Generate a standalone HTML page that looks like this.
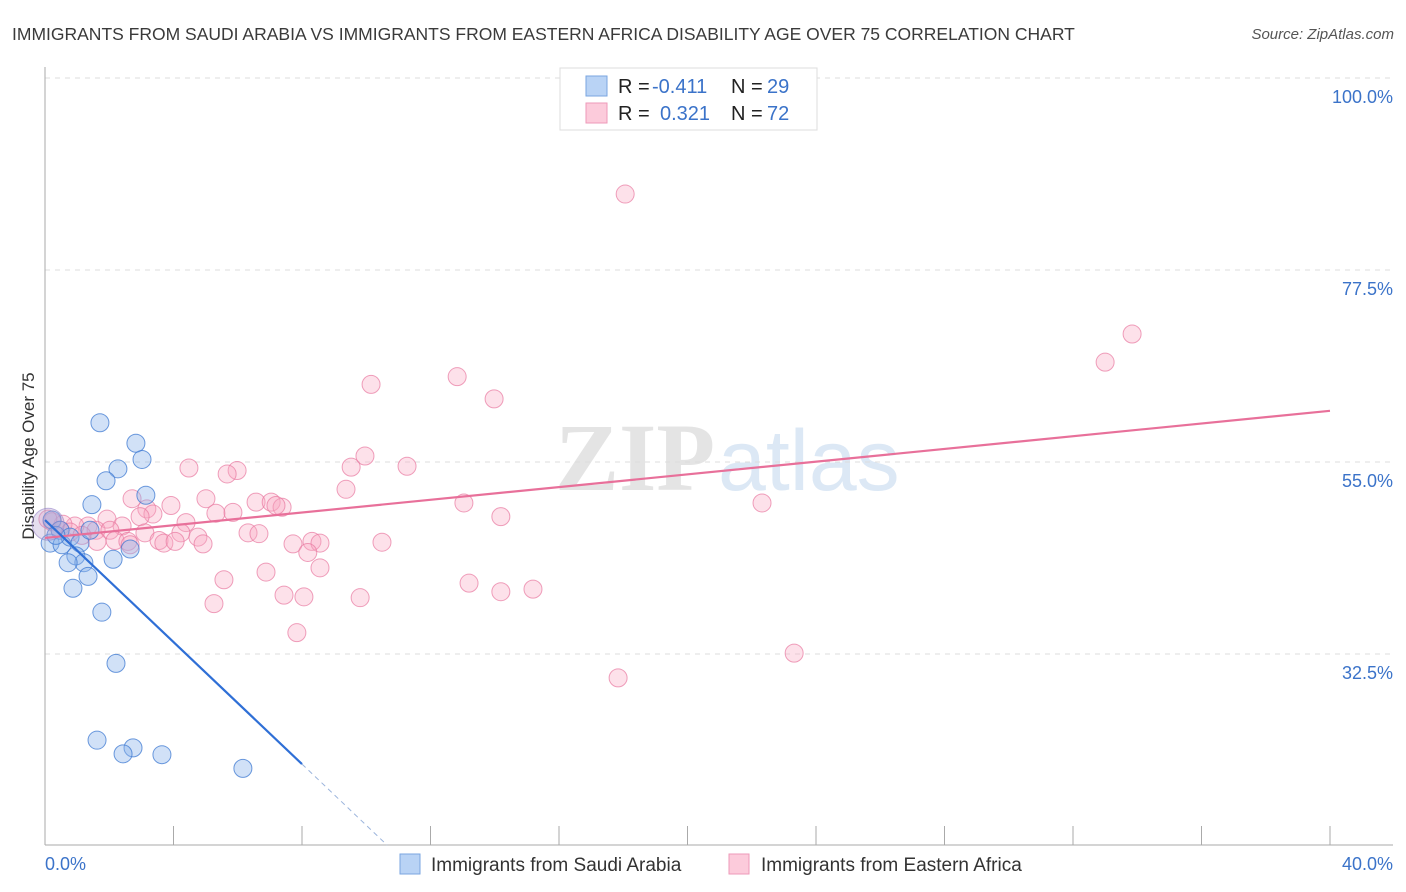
<!DOCTYPE html>
<html><head><meta charset="utf-8"><style>
body{margin:0;background:#fff;font-family:"Liberation Sans",sans-serif}
svg{display:block}
</style></head><body>
<svg id="chart" width="1406" height="892"></svg>
<script>
const blueX=[1.71,2.83,3.02,2.27,1.90,3.14,1.46,0.22,0.47,0.16,0.53,0.78,1.09,0.96,1.21,0.72,2.12,2.65,1.34,0.87,1.77,2.21,1.62,2.74,2.43,3.64,6.16,0.34,1.40];
const blueY=[59.6,57.2,55.3,54.2,52.8,51.1,50.0,48.2,47.0,45.5,45.3,46.2,45.5,44.0,43.2,43.2,43.6,44.8,41.6,40.2,37.4,31.4,22.4,21.5,20.8,20.7,19.1,46.4,47.0];
const pinkX=[18.06,33.84,33.0,12.83,10.15,13.98,9.96,11.27,9.53,4.48,5.98,5.67,9.37,2.71,5.01,6.57,7.04,7.38,7.19,3.92,13.04,22.32,3.17,3.36,5.85,5.32,2.96,14.19,1.93,4.39,2.40,1.34,0.93,0.56,0.22,0.09,1.59,2.02,3.11,4.23,6.32,6.66,4.76,2.18,1.62,2.58,3.55,3.70,4.05,4.92,7.72,8.31,8.56,10.49,8.18,6.88,8.56,5.57,13.20,15.19,7.44,8.06,9.81,14.19,5.26,7.84,23.32,17.84,0.47,0.78,1.15,2.65];
const pinkY=[86.4,70.0,66.7,65.0,64.1,62.4,55.7,54.5,54.4,54.3,54.0,53.6,51.8,50.7,50.7,50.3,50.3,49.7,49.9,49.9,50.2,50.2,49.5,48.9,49.1,49.0,48.6,48.6,48.3,47.9,47.5,47.5,47.5,47.7,48.0,48.3,47.0,47.0,46.7,46.7,46.7,46.6,46.2,45.8,45.7,45.7,45.8,45.5,45.7,45.4,45.4,45.7,45.5,45.6,44.4,42.1,42.6,41.2,40.8,40.1,39.4,39.2,39.1,39.8,38.4,35.0,32.6,29.7,47.0,46.8,46.4,45.3];
const blueLine=[[0,48.2],[8.0,19.6]];
const blueDash=[[8.0,19.6],[10.65,10.1]];
const pinkLine=[[0,46.1],[40,61.0]];
const yTicks=[100,77.5,55,32.5];
const yTickLabels=["100.0%","77.5%","55.0%","32.5%"];
const xTicks=[0,4,8,12,16,20,24,28,32,36,40];

const NS="http://www.w3.org/2000/svg";
const svg=document.getElementById('chart');
const X=v=>45+v*(1285/40);
const Y=v=>78+(100-v)*(192/22.5);
function el(t,a,p){const e=document.createElementNS(NS,t);for(const k in a)e.setAttribute(k,a[k]);(p||svg).appendChild(e);return e;}
function txt(s,a){const e=el('text',a);e.textContent=s;return e;}

let t=txt("IMMIGRANTS FROM SAUDI ARABIA VS IMMIGRANTS FROM EASTERN AFRICA DISABILITY AGE OVER 75 CORRELATION CHART",{x:12,y:40,'font-size':17.5,fill:'#3a3a3a'});


t=txt("Source: ZipAtlas.com",{x:1394,y:39,'font-size':15,fill:'#555','font-style':'italic','text-anchor':'end'});



// watermark
t=txt("ZIP",{x:555,y:490,'font-size':96,fill:'#e4e4e4','font-family':'Liberation Serif','font-weight':'bold'});


t=txt("atlas",{x:718,y:490,'font-size':86,fill:'#dce8f5'});



yTicks.forEach((v,i)=>{
  const g=el('line',{x1:45,x2:1393,y1:Y(v),y2:Y(v),stroke:'#ddd','stroke-dasharray':'5,5'});
  
  
  const l=txt(yTickLabels[i],{x:1393,y:Y(v)+25,'font-size':18,fill:'#3b73c9','text-anchor':'end'});
  
  
});
let a=el('line',{x1:45,x2:45,y1:67,y2:845,stroke:'#aaa'});


a=el('line',{x1:45,x2:1393,y1:845,y2:845,stroke:'#aaa'});


xTicks.forEach(v=>{
  const k=el('line',{x1:X(v),x2:X(v),y1:826,y2:845,stroke:'#aaa'});
  
  
});
t=txt("0.0%",{x:45,y:870,'font-size':18,fill:'#3b73c9'});


t=txt("40.0%",{x:1393,y:870,'font-size':18,fill:'#3b73c9','text-anchor':'end'});


t=txt("Disability Age Over 75",{x:0,y:0,'font-size':17,fill:'#333','text-anchor':'middle',transform:'translate(34,456) rotate(-90)'});



pinkX.forEach((v,i)=>{
  const c=el('circle',{cx:X(v),cy:Y(pinkY[i]),r:9,fill:'rgba(248,170,195,0.35)',stroke:'rgba(232,120,160,0.7)','stroke-width':1});
  
  
});
blueX.forEach((v,i)=>{
  const c=el('circle',{cx:X(v),cy:Y(blueY[i]),r:9,fill:'rgba(140,180,235,0.4)',stroke:'rgba(60,120,210,0.75)','stroke-width':1});
  
  
});
let big=el('circle',{cx:X(0.1),cy:Y(47.7),r:16,fill:'rgba(180,160,210,0.35)',stroke:'rgba(150,130,200,0.6)'});



let ln=el('line',{x1:X(pinkLine[0][0]),y1:Y(pinkLine[0][1]),x2:X(pinkLine[1][0]),y2:Y(pinkLine[1][1]),stroke:'#e8709a','stroke-width':2.2});


ln=el('line',{x1:X(blueLine[0][0]),y1:Y(blueLine[0][1]),x2:X(blueLine[1][0]),y2:Y(blueLine[1][1]),stroke:'#2f6fd6','stroke-width':2.2});


ln=el('line',{x1:X(blueDash[0][0]),y1:Y(blueDash[0][1]),x2:X(blueDash[1][0]),y2:Y(blueDash[1][1]),stroke:'#9bb4dc','stroke-width':1,'stroke-dasharray':'5,4'});



// legend box
let lg=el('rect',{x:560,y:68,width:257,height:62,fill:'#fff',stroke:'#ddd'});


let s=el('rect',{x:586,y:76,width:21,height:20,fill:'#b9d3f5',stroke:'#7aa6e0'});


s=el('rect',{x:586,y:103,width:21,height:20,fill:'#fccbdb',stroke:'#ee9ab8'});


function rich(y,parts,name){const e=el('text',{x:618,y:y,'font-size':20});parts.forEach(p=>{const ts=el('tspan',{fill:p[1]},e);if(p[2]!==undefined)ts.setAttribute('x',p[2]);ts.textContent=p[0];});}
rich(93,[["R = ","#222"],["-0.411","#3b73c9",652],["N = ","#222",731],["29","#3b73c9",767]],'legend-stats-blue');
rich(120,[["R = ","#222"],["0.321","#3b73c9",660],["N = ","#222",731],["72","#3b73c9",767]],'legend-stats-pink');

// bottom legend
s=el('rect',{x:400,y:854,width:20,height:20,fill:'#b9d3f5',stroke:'#7aa6e0'});


t=txt("Immigrants from Saudi Arabia",{x:431,y:871,'font-size':19,fill:'#333'});


s=el('rect',{x:729,y:854,width:20,height:20,fill:'#fccbdb',stroke:'#ee9ab8'});


t=txt("Immigrants from Eastern Africa",{x:761,y:871,'font-size':19,fill:'#333'});


</script>
</body></html>
